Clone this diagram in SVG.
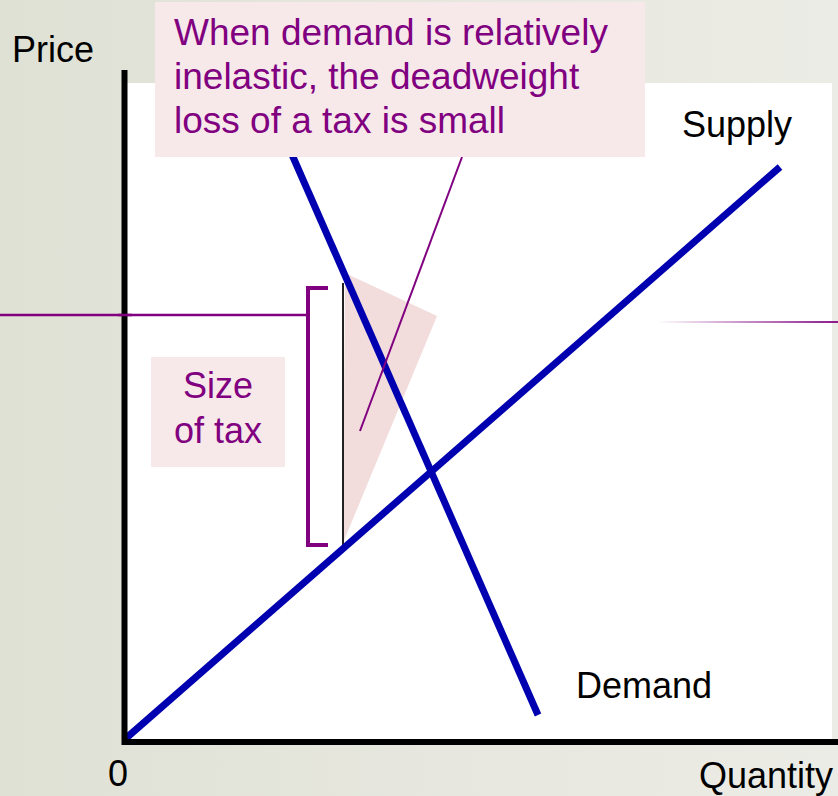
<svg xmlns="http://www.w3.org/2000/svg" width="838" height="796" viewBox="0 0 838 796">
<defs>
<linearGradient id="bg" x1="0" y1="0" x2="1" y2="0">
<stop offset="0" stop-color="#e0e1d5"/>
<stop offset="1" stop-color="#ecece6"/>
</linearGradient>
<linearGradient id="fade" gradientUnits="userSpaceOnUse" x1="657" y1="0" x2="838" y2="0">
<stop offset="0" stop-color="#8b1a8b" stop-opacity="0"/>
<stop offset="1" stop-color="#8b1a8b" stop-opacity="1"/>
</linearGradient>
<style>
.curve{stroke:#0000b0;stroke-width:7;fill:none}
.axis{stroke:#000;stroke-width:6;fill:none}
.pur{stroke:#800080;fill:none}
.note{fill:#f7e9ea}
.lbl{font-family:"Liberation Sans",Arial,sans-serif;font-size:36px;fill:#000}
.ptxt{font-family:"Liberation Sans",Arial,sans-serif;fill:#800080}
</style>
</defs>
<rect x="0" y="0" width="838" height="796" fill="url(#bg)"/>
<rect x="127" y="83" width="705" height="657" fill="#fff"/>
<g id="dwl">
<polygon points="345,273 437,316 343,543" fill="#f2dcdc"/>
<line x1="343" y1="283" x2="343" y2="545" stroke="#222" stroke-width="2"/>
</g>
<g id="connectors">
<line class="curve" x1="124" y1="740" x2="780" y2="167"/>
<line class="curve" x1="268" y1="100" x2="538" y2="715"/>
<line class="pur" stroke-width="2" x1="462" y1="157" x2="360" y2="431"/>
<path class="pur" stroke-width="4" d="M328,288 H308 V545 H328"/>
<line class="pur" stroke-width="2.5" x1="0" y1="315" x2="308" y2="315"/>
<line stroke="url(#fade)" stroke-width="2" x1="657" y1="322" x2="838" y2="322"/>
</g>
<g id="axes">
<polyline class="axis" points="124.5,70 124.5,742 838,742"/>
<line class="pur" stroke-width="2.5" x1="118" y1="315" x2="132" y2="315"/>
</g>
<g id="callout">
<rect class="note" x="155" y="2" width="490" height="155"/>
<text class="ptxt" font-size="37" x="174" y="45">When demand is relatively</text>
<text class="ptxt" font-size="37" x="174" y="89">inelastic, the deadweight</text>
<text class="ptxt" font-size="37" x="174" y="133">loss of a tax is small</text>
</g>
<g id="taxlabel">
<rect class="note" x="151" y="357" width="134" height="110"/>
<text class="ptxt" font-size="36" x="218" y="398" text-anchor="middle">Size</text>
<text class="ptxt" font-size="36" x="218" y="443" text-anchor="middle">of tax</text>
</g>
<g id="labels">
<text class="lbl" x="12" y="62">Price</text>
<text class="lbl" x="682" y="137">Supply</text>
<text class="lbl" x="576" y="698">Demand</text>
<text class="lbl" x="108" y="786">0</text>
<text class="lbl" x="699" y="788">Quantity</text>
</g>
</svg>
